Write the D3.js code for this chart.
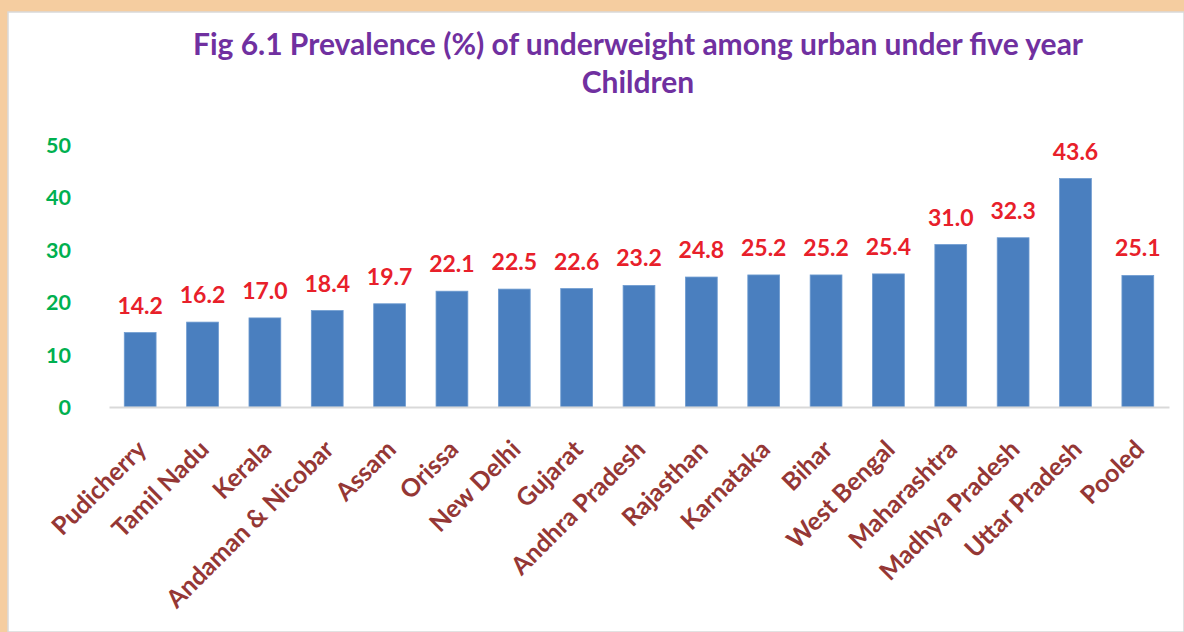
<!DOCTYPE html>
<html><head><meta charset="utf-8">
<script src="https://cdn.jsdelivr.net/npm/d3@7"></script>
<style>body{margin:0;background:#F5CDA0;}svg{display:block;}</style>
</head><body>
<svg id="c" width="1184" height="632"></svg>
<script>
const categories = ["Pudicherry","Tamil Nadu","Kerala","Andaman & Nicobar","Assam","Orissa","New Delhi","Gujarat","Andhra Pradesh","Rajasthan","Karnataka","Bihar","West Bengal","Maharashtra","Madhya Pradesh","Uttar Pradesh","Pooled"];
const values = [14.2,16.2,17.0,18.4,19.7,22.1,22.5,22.6,23.2,24.8,25.2,25.2,25.4,31.0,32.3,43.6,25.1];
const yTicks = [0,10,20,30,40,50];
const titleLines = ["Fig 6.1 Prevalence (%) of underweight among urban under five year","Children"];

const svg = d3.select("#c");
const font = "Lato, 'Open Sans', sans-serif";
svg.append("rect").attr("width",1184).attr("height",632).attr("fill","#F5CDA0");
svg.append("rect").attr("x",8).attr("y",12).attr("width",1176).attr("height",620).attr("fill","#fff").attr("stroke","#D9D9D9").attr("stroke-width",1.5);

const x = d3.scaleBand().domain(categories).range([109,1169]).paddingInner(0.49).paddingOuter(0.245);
const y = d3.scaleLinear().domain([0,50]).range([407,145]);

svg.append("g").selectAll("text").data(titleLines).join("text")
  .attr("x",638).attr("y",(d,i)=>55+i*38).attr("text-anchor","middle")
  .attr("font-family",font).attr("font-weight","bold").attr("font-size",30).attr("fill","#7030A0").text(d=>d);

const yAxis = d3.axisLeft(y).tickValues(yTicks).tickSize(0).tickPadding(0);
const ga = svg.append("g").attr("transform","translate(71,0)").call(yAxis);
ga.select(".domain").remove();
ga.selectAll("text").attr("font-family",font).attr("font-weight","bold").attr("font-size",21.5).attr("fill","#00B050").attr("dy","0.35em");

svg.append("g").selectAll("rect").data(values).join("rect")
  .attr("x",(d,i)=>x(categories[i])).attr("width",x.bandwidth())
  .attr("y",d=>y(d)).attr("height",d=>y(0)-y(d))
  .attr("fill","#4A7FBF").attr("stroke","#6E9BD0").attr("stroke-width",0.8);

svg.append("g").selectAll("text").data(values).join("text")
  .attr("x",(d,i)=>x(categories[i])+x.bandwidth()/2).attr("y",d=>y(d)-19)
  .attr("text-anchor","middle").attr("font-family",font).attr("font-weight","bold")
  .attr("font-size",23).attr("fill","#E8202A").text(d=>d.toFixed(1));

const xAxis = d3.axisBottom(x).tickSize(0).tickPadding(0);
const gx = svg.append("g").attr("transform","translate(0,407)").call(xAxis);
gx.select(".domain").attr("stroke","#D9D9D9").attr("stroke-width",2);
gx.selectAll("text").attr("font-family",font).attr("font-weight","bold").attr("font-size",25).attr("fill","#953735")
  .attr("text-anchor","end").attr("dy",0).attr("y",0)
  .attr("transform","translate(8,44) rotate(-45)");
</script>
</body></html>
